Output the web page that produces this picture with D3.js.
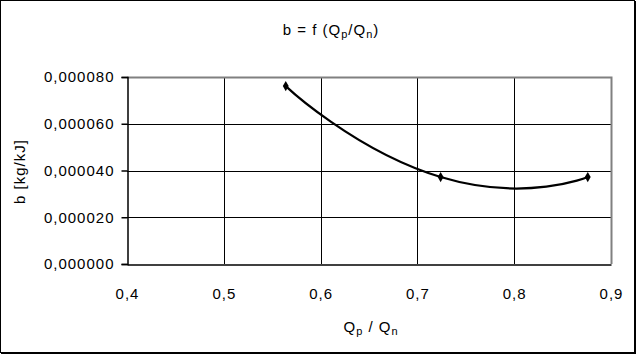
<!DOCTYPE html>
<html>
<head>
<meta charset="utf-8">
<script src="https://cdn.jsdelivr.net/npm/d3@7"></script>
<style>
  body { margin: 0; background: #fff; }
  svg { display: block; font-family: "Liberation Sans", Arial, sans-serif; }
  text { letter-spacing: 1px; }
</style>
</head>
<body>
<svg id="chart" width="637" height="355"></svg>
<script>
// ratio Qp/Qn and specific consumption b [kg/kJ]
var qRatio = [0.564, 0.724, 0.876];
var bValues = [0.0000761, 0.0000372, 0.0000372];
var xTicks = [0.4, 0.5, 0.6, 0.7, 0.8, 0.9];
var yTicks = [0, 0.00002, 0.00004, 0.00006, 0.00008];

var svg = d3.select('#chart');
var W = 637, H = 355;
var margin = { left: 127, right: 26, top: 77, bottom: 91 };

// outer frame
svg.append('rect')
	.attr('x', 0.5).attr('y', 0.5)
	.attr('width', W - 3).attr('height', H - 3)
	.attr('fill', '#fff').attr('stroke', '#000').attr('stroke-width', 1);
svg.append('path')
	.attr('d', 'M' + (W - 2) + ',1V' + (H - 2) + 'H1')
	.attr('fill', 'none').attr('stroke', '#000').attr('stroke-width', 2);

var x = d3.scaleLinear().domain([0.4, 0.9]).range([margin.left, W - margin.right]);
var y = d3.scaleLinear().domain([0, 0.00008]).range([H - margin.bottom, margin.top]);

var fmtX = function(d) { return d3.format('.1f')(d).replace('.', ','); };
var fmtY = function(d) { return d3.format('.6f')(d).replace('.', ','); };

// gridlines
var grid = svg.append('g');
grid.selectAll('line.v').data(xTicks.slice(1, -1)).enter().append('line')
	.attr('x1', function(d) { return Math.round(x(d)) + 0.5; })
	.attr('x2', function(d) { return Math.round(x(d)) + 0.5; })
	.attr('y1', y(0)).attr('y2', y(0.00008))
	.attr('stroke', '#000');
grid.selectAll('line.h').data(yTicks.slice(1, -1)).enter().append('line')
	.attr('y1', function(d) { return Math.round(y(d)) + 0.5; })
	.attr('y2', function(d) { return Math.round(y(d)) + 0.5; })
	.attr('x1', x(0.4)).attr('x2', x(0.9))
	.attr('stroke', '#000');

// top and right border of the plot area (grey)
svg.append('path')
	.attr('d', 'M' + x(0.4) + ',' + (y(0.00008) + 0.5) + 'H' + (x(0.9) + 0.5) + 'V' + y(0))
	.attr('fill', 'none').attr('stroke', '#808080').attr('stroke-width', 2);

// axes
svg.append('g')
	.attr('transform', 'translate(' + (margin.left + 0.5) + ',0)')
	.call(d3.axisLeft(y).tickValues(yTicks).tickFormat(fmtY).tickSizeOuter(0).tickSize(6).tickPadding(7));
svg.append('g')
	.attr('transform', 'translate(0,' + (H - margin.bottom + 0.5) + ')')
	.call(d3.axisBottom(x).tickValues(xTicks).tickFormat(fmtX).tickSizeOuter(0).tickSize(0).tickPadding(24));

svg.selectAll('.domain').attr('stroke', '#000').attr('stroke-width', 1.5);
svg.selectAll('.tick line').attr('stroke', '#000').attr('stroke-width', 1.5);
svg.selectAll('.tick text').attr('font-family', '"Liberation Sans", Arial, sans-serif')
	.attr('font-size', 15).attr('fill', '#000');

// curve
var pts = qRatio.map(function(d, i) { return [d, bValues[i]]; });
var line = d3.line()
	.x(function(d) { return x(d[0]); })
	.y(function(d) { return y(d[1]); })
	.curve(d3.curveCardinal.tension(-0.7));

svg.append('path')
	.datum(pts)
	.attr('d', line)
	.attr('fill', 'none')
	.attr('stroke', '#000')
	.attr('stroke-width', 2.2);

svg.selectAll('path.marker').data(pts).enter().append('path')
	.attr('class', 'marker')
	.attr('transform', function(d) { return 'translate(' + x(d[0]) + ',' + y(d[1]) + ')'; })
	.attr('d', d3.symbol().type(d3.symbolDiamond).size(30))
	.attr('fill', '#000');

// title
var title = svg.append('text')
	.attr('x', 331).attr('y', 35)
	.attr('text-anchor', 'middle')
	.attr('font-size', 15);
title.append('tspan').text('b = f (Q');
title.append('tspan').attr('font-size', 11).attr('dy', 3).text('p');
title.append('tspan').attr('dy', -3).text('/Q');
title.append('tspan').attr('font-size', 11).attr('dy', 3).text('n');
title.append('tspan').attr('dy', -3).text(')');

// x label
var xl = svg.append('text')
	.attr('x', 371).attr('y', 332)
	.attr('text-anchor', 'middle')
	.attr('font-size', 15);
xl.append('tspan').text('Q');
xl.append('tspan').attr('font-size', 11).attr('dy', 3).text('p');
xl.append('tspan').attr('dy', -3).text(' / Q');
xl.append('tspan').attr('font-size', 11).attr('dy', 3).text('n');

// y label
svg.append('text')
	.attr('transform', 'translate(25,' + (y(0.00004) + 1) + ') rotate(-90)')
	.attr('text-anchor', 'middle')
	.attr('font-size', 15)
	.text('b [kg/kJ]');
</script>
</body>
</html>
